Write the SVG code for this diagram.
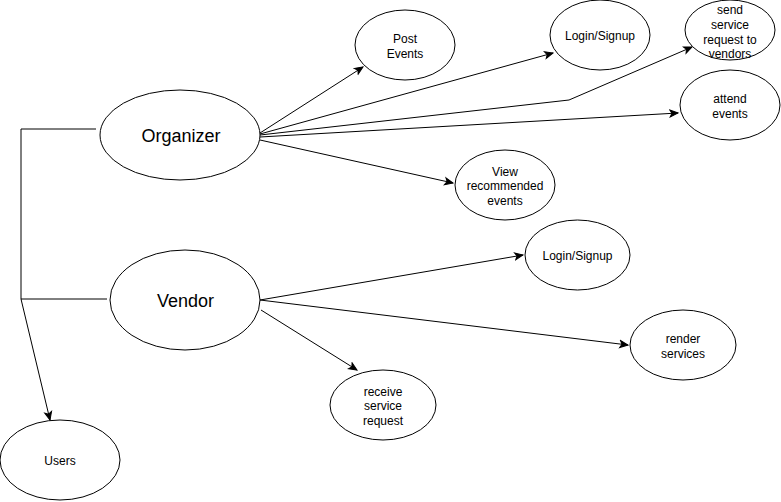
<svg xmlns="http://www.w3.org/2000/svg" width="781" height="502" viewBox="0 0 781 502">
<defs>
<marker id="arr" markerWidth="10" markerHeight="10" refX="9" refY="5" orient="auto" markerUnits="userSpaceOnUse">
<path d="M1,1.5 L9,5 L1,8.5 L3,5 Z" fill="#000" stroke="#000" stroke-width="1"/>
</marker>
</defs>
<style>
.n{fill:#fff;stroke:#000;stroke-width:1}
.t{font-family:"Liberation Sans",Arial,sans-serif;font-size:12px;fill:#000;text-anchor:middle}
.b{font-size:18px}
.c{fill:none;stroke:#000;stroke-width:1}
</style>
<rect width="781" height="502" fill="#fff"/>
<g id="connectors">
<polyline class="c" points="96,129 21,129 21,299"/>
<line class="c" x1="21" y1="299" x2="107" y2="299"/>
<line class="c" x1="21" y1="299" x2="50" y2="420" marker-end="url(#arr)"/>
<line class="c" x1="260" y1="133" x2="363" y2="67" marker-end="url(#arr)"/>
<line class="c" x1="260" y1="134" x2="553" y2="53" marker-end="url(#arr)"/>
<polyline class="c" points="260,135 569,100 692,47" marker-end="url(#arr)"/>
<line class="c" x1="260" y1="137" x2="678" y2="113" marker-end="url(#arr)"/>
<line class="c" x1="260" y1="140" x2="453" y2="183" marker-end="url(#arr)"/>
<line class="c" x1="260" y1="300" x2="523" y2="255" marker-end="url(#arr)"/>
<line class="c" x1="260" y1="300" x2="628" y2="345" marker-end="url(#arr)"/>
<line class="c" x1="261" y1="310" x2="357" y2="370" marker-end="url(#arr)"/>
</g>
<g id="organizer">
<ellipse class="n" cx="180" cy="135" rx="80" ry="45"/>
<text class="t b" x="181" y="142">Organizer</text>
</g>
<g id="vendor">
<ellipse class="n" cx="185" cy="300" rx="75" ry="50"/>
<text class="t b" x="185.5" y="307">Vendor</text>
</g>
<g id="users">
<ellipse class="n" cx="60" cy="460" rx="60" ry="40"/>
<text class="t" x="60" y="465">Users</text>
</g>
<g id="post-events">
<ellipse class="n" cx="405" cy="45" rx="50" ry="35"/>
<text class="t" x="405" y="43">Post</text>
<text class="t" x="405" y="58">Events</text>
</g>
<g id="login-organizer">
<ellipse class="n" cx="600" cy="35" rx="50" ry="35"/>
<text class="t" x="600" y="40">Login/Signup</text>
</g>
<g id="send-request">
<ellipse class="n" cx="730" cy="30" rx="45" ry="30"/>
<text class="t" x="730" y="14">send</text>
<text class="t" x="730" y="29">service</text>
<text class="t" x="730" y="44">request to</text>
<text class="t" x="730" y="58">vendors</text>
</g>
<g id="attend-events">
<ellipse class="n" cx="730" cy="105" rx="50" ry="35"/>
<text class="t" x="730" y="103">attend</text>
<text class="t" x="730" y="118">events</text>
</g>
<g id="view-recommended">
<ellipse class="n" cx="505" cy="185" rx="50" ry="35"/>
<text class="t" x="505" y="176">View</text>
<text class="t" x="505" y="190">recommended</text>
<text class="t" x="505" y="205">events</text>
</g>
<g id="login-vendor">
<ellipse class="n" cx="577.5" cy="255" rx="52.5" ry="35"/>
<text class="t" x="577.5" y="260">Login/Signup</text>
</g>
<g id="render-services">
<ellipse class="n" cx="683" cy="345" rx="53" ry="35"/>
<text class="t" x="683" y="343">render</text>
<text class="t" x="683" y="358">services</text>
</g>
<g id="receive-request">
<ellipse class="n" cx="383" cy="405" rx="53" ry="35"/>
<text class="t" x="383" y="396">receive</text>
<text class="t" x="383" y="410">service</text>
<text class="t" x="383" y="425">request</text>
</g>
</svg>
